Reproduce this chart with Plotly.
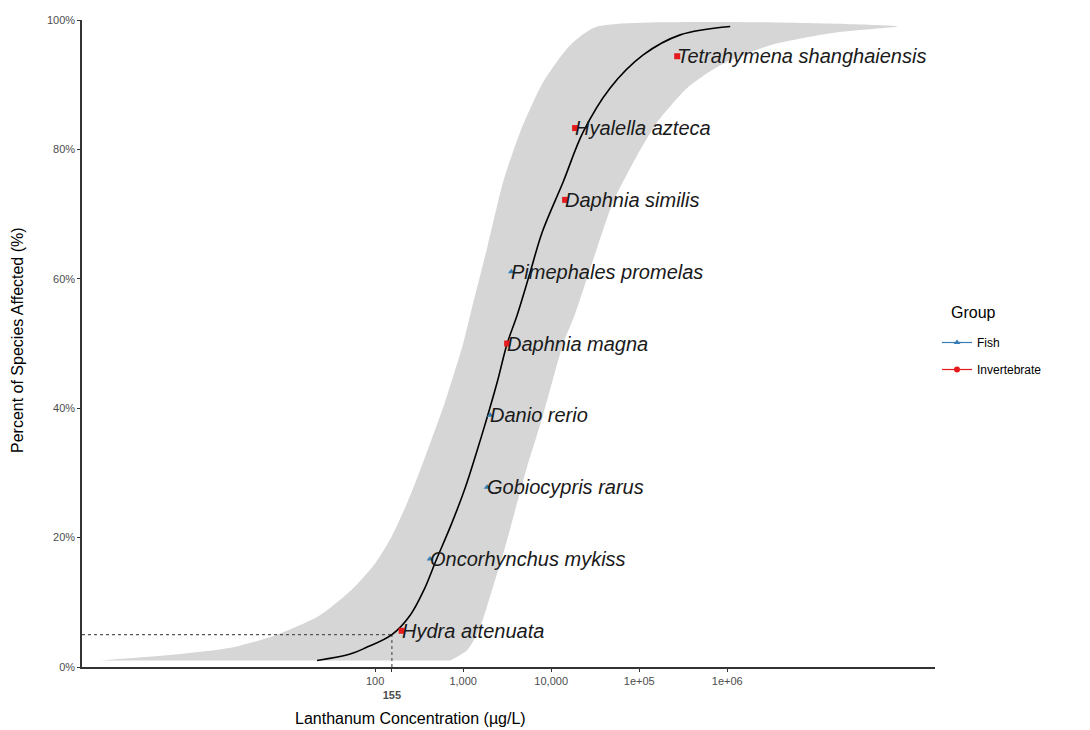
import numpy as np
import plotly.graph_objects as go

# ---------------- data ----------------
species = ["Hydra attenuata", "Oncorhynchus mykiss", "Gobiocypris rarus", "Danio rerio",
           "Daphnia magna", "Pimephales promelas", "Daphnia similis", "Hyalella azteca",
           "Tetrahymena shanghaiensis"]
groups = ["Invertebrate", "Fish", "Fish", "Fish", "Invertebrate", "Fish",
          "Invertebrate", "Invertebrate", "Invertebrate"]
conc = [200, 420, 1870, 2030, 3160, 3530, 14400, 18700, 270000]
pct = [5.6, 16.7, 27.8, 38.9, 50.0, 61.1, 72.2, 83.3, 94.4]

# fitted SSD curve
curve_x = [21.9, 52.0, 79.0, 155, 250, 361, 493, 731, 1055, 1406, 1874, 2434, 3162,
           4110, 5770, 7900, 13700, 23100, 46800, 111000, 292000, 1080000]
curve_y = [1.0, 2.0, 3.0, 5.0, 8.0, 12.0, 16.5, 22.0, 27.7, 33.0, 38.6, 44.0, 50.0,
           54.4, 61.0, 67.2, 75.0, 82.7, 89.5, 94.6, 97.7, 99.0]

# confidence band edges
band_left_x = [0.075, 0.61, 2.37, 7.7, 23.7, 54.8, 100, 152, 225, 316, 433, 624, 1000,
               1202, 1874, 2850, 4445, 8110, 16400, 33300]
band_left_y = [1.0, 2.0, 3.0, 5.0, 8.0, 12.0, 16.0, 20.0, 25.0, 30.0, 35.0, 41.0, 50.0,
               54.4, 64.8, 75.0, 82.7, 90.4, 96.1, 99.0]
band_right_x = [711, 1110, 1520, 2140, 2920, 4220, 5340, 8110, 13700, 18500, 33300,
                50700, 94900, 160000, 351000, 832000, 3080000, 17800000, 85500000]
band_right_y = [1.0, 2.6, 5.7, 12.0, 18.0, 26.0, 31.0, 39.0, 50.0, 54.4, 64.8, 71.9,
                79.1, 84.2, 89.5, 93.0, 96.1, 98.1, 99.0]

hc5 = 155
hc5_pct = 5

tick_vals = [100, 155, 1000, 10000, 100000, 1000000]
tick_text = ["100", "<br><b>155</b>", "1,000", "10,000", "1e+05", "1e+06"]
y_tick_vals = [0, 20, 40, 60, 80, 100]
y_tick_text = ["0%", "20%", "40%", "60%", "80%", "100%"]

group_names = ["Fish", "Invertebrate"]
group_colors = {"Fish": "#377EB8", "Invertebrate": "#E41A1C"}
group_symbols = {"Fish": "triangle-up", "Invertebrate": "square"}
legend_symbols = {"Fish": "triangle-up", "Invertebrate": "circle"}

FONT = "Liberation Sans, Arial, sans-serif"

# page offset (html body margin) and target plot-area box in viewport pixels
OFF = 8
W, H = 1090, 730
PX0, PX1, PY0, PY1 = 82, 935, 20, 667
L, T = PX0 - OFF, PY0 - OFF
R = W - (PX1 - OFF)
B = H - (PY1 - OFF)
PW, PH = PX1 - PX0, PY1 - PY0
X_RANGE = [-1.33, 8.36]


def px_to_paper_x(px):
    return (px - PX0) / PW


def px_to_paper_y(py):
    return (PY1 - py) / PH


fig = go.Figure()

# band
fig.add_trace(go.Scatter(
    x=band_left_x + band_right_x[::-1],
    y=band_left_y + band_right_y[::-1],
    mode="lines", fill="toself", fillcolor="#D6D6D6",
    line=dict(width=0, shape="spline", smoothing=0.65),
    hoverinfo="skip", showlegend=False))

# HC5 reference lines
fig.add_trace(go.Scatter(x=[10 ** X_RANGE[0], hc5], y=[hc5_pct, hc5_pct], mode="lines",
                         line=dict(color="#555555", width=1.2, dash="dot"),
                         showlegend=False, hoverinfo="skip"))
fig.add_trace(go.Scatter(x=[hc5, hc5], y=[0, hc5_pct], mode="lines",
                         line=dict(color="#555555", width=1.2, dash="dot"),
                         showlegend=False, hoverinfo="skip"))

# curve
fig.add_trace(go.Scatter(x=curve_x, y=curve_y, mode="lines",
                         line=dict(color="black", width=1.6, shape="spline", smoothing=1.0),
                         showlegend=False, hoverinfo="skip"))

# points per group
for g in group_names:
    xs = [c for c, gg in zip(conc, groups) if gg == g]
    ys = [p for p, gg in zip(pct, groups) if gg == g]
    fig.add_trace(go.Scatter(x=xs, y=ys, mode="markers",
                             marker=dict(color=group_colors[g], symbol=group_symbols[g], size=6),
                             showlegend=False, hoverinfo="skip"))
    # legend-only entry (line + point key)
    fig.add_trace(go.Scatter(x=[None], y=[None], mode="lines+markers", name=g,
                             legendgroup=g,
                             line=dict(color=group_colors[g], width=1.2),
                             marker=dict(color=group_colors[g], symbol=legend_symbols[g], size=6)))

# species labels
for s, c, p in zip(species, conc, pct):
    fig.add_annotation(x=np.log10(c), y=p, text=f"<i>{s}</i>", showarrow=False,
                       xanchor="left", yanchor="middle", xshift=-2,
                       font=dict(family=FONT, size=20, color="#1a1a1a"))

# axis titles
fig.add_annotation(text="Lanthanum Concentration (µg/L)", xref="paper", yref="paper",
                   x=px_to_paper_x(410), y=px_to_paper_y(718), showarrow=False,
                   xanchor="center", yanchor="middle",
                   font=dict(family=FONT, size=16, color="black"))
fig.add_annotation(text="Percent of Species Affected (%)", xref="paper", yref="paper",
                   x=px_to_paper_x(18), y=px_to_paper_y(340), showarrow=False,
                   textangle=-90, xanchor="center", yanchor="middle",
                   font=dict(family=FONT, size=16, color="black"))
# legend title
fig.add_annotation(text="Group", xref="paper", yref="paper",
                   x=px_to_paper_x(949), y=px_to_paper_y(312), showarrow=False,
                   xanchor="left", yanchor="middle",
                   font=dict(family=FONT, size=16, color="black"))

axis_common = dict(showgrid=False, zeroline=False, showline=True, linecolor="#333333",
                   linewidth=1.5, ticks="outside", ticklen=3, tickcolor="#333333",
                   tickangle=0, automargin=False,
                   tickfont=dict(family=FONT, size=11, color="#4D4D4D"))

fig.update_layout(
    template="none",
    width=W, height=H,
    margin=dict(l=L, r=R, t=T, b=B, pad=0),
    paper_bgcolor="white", plot_bgcolor="white",
    font=dict(family=FONT),
    xaxis=dict(type="log", range=X_RANGE, tickvals=tick_vals, ticktext=tick_text,
               **axis_common),
    yaxis=dict(range=[0, 100], tickvals=y_tick_vals, ticktext=y_tick_text, **axis_common),
    legend=dict(font=dict(family=FONT, size=12, color="black"),
                x=px_to_paper_x(937), xanchor="left", y=px_to_paper_y(328), yanchor="top",
                bgcolor="rgba(0,0,0,0)", itemwidth=30, tracegroupgap=8,
                traceorder="grouped"),
)

fig.write_html("out.html")
